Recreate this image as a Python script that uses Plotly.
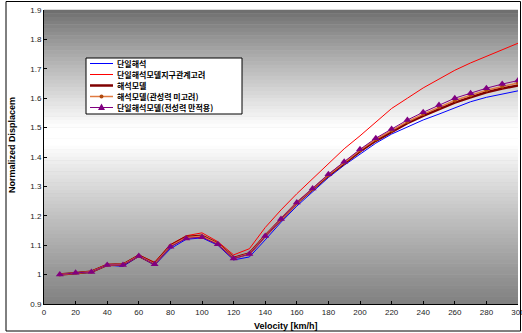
import plotly.graph_objects as go

velocity = [10, 20, 30, 40, 50, 60, 70, 80, 90, 100, 110, 120, 130, 140, 150,
            160, 170, 180, 190, 200, 210, 220, 230, 240, 250, 260, 270, 280, 290, 300]

s_blue = [1.000, 1.005, 1.008, 1.032, 1.028, 1.062, 1.032, 1.088, 1.120, 1.125, 1.100, 1.050, 1.060, 1.118, 1.178,
          1.233, 1.283, 1.330, 1.372, 1.408, 1.447, 1.478, 1.503, 1.526, 1.546, 1.566, 1.588, 1.603, 1.615, 1.625]
s_red = [1.000, 1.007, 1.012, 1.035, 1.036, 1.067, 1.042, 1.102, 1.132, 1.142, 1.112, 1.067, 1.088, 1.160, 1.220,
         1.275, 1.325, 1.378, 1.428, 1.472, 1.520, 1.565, 1.600, 1.635, 1.665, 1.695, 1.720, 1.742, 1.765, 1.787]
s_brown = [1.000, 1.006, 1.010, 1.033, 1.034, 1.064, 1.037, 1.098, 1.128, 1.132, 1.106, 1.057, 1.072, 1.132, 1.188,
           1.243, 1.290, 1.337, 1.378, 1.419, 1.455, 1.486, 1.515, 1.540, 1.562, 1.585, 1.603, 1.620, 1.633, 1.643]
s_orange = [1.000, 1.006, 1.010, 1.033, 1.034, 1.064, 1.036, 1.097, 1.126, 1.130, 1.105, 1.056, 1.071, 1.131, 1.188,
            1.244, 1.291, 1.339, 1.381, 1.423, 1.460, 1.490, 1.520, 1.546, 1.570, 1.592, 1.610, 1.627, 1.640, 1.652]
s_purple = [1.000, 1.006, 1.009, 1.033, 1.033, 1.063, 1.035, 1.095, 1.123, 1.127, 1.103, 1.055, 1.070, 1.131, 1.189,
            1.245, 1.293, 1.341, 1.384, 1.426, 1.464, 1.495, 1.526, 1.552, 1.577, 1.600, 1.617, 1.634, 1.648, 1.660]

names = ["단일해석",
         "단일해석모델지구관계고려",
         "해석모델",
         "해석모델(관성력 미고려)",
         "단일해석모델(전성력 만적용)"]

x_ticks = list(range(0, 301, 20))
y_ticks = [0.9, 1.0, 1.1, 1.2, 1.3, 1.4, 1.5, 1.6, 1.7, 1.8, 1.9]
y_ticktext = ["0.9", "1", "1.1", "1.2", "1.3", "1.4", "1.5", "1.6", "1.7", "1.8", "1.9"]

# plot-area geometry (pixels) used for styling helpers
L, R, T, B = 44, 518, 10, 304
W = 522
H = 333


def px(x):
    return (x - L) / (R - L)


def py(y):
    return (B - y) / (B - T)


styles = [
    dict(color="#0000FF", width=1, marker=None),
    dict(color="#FF0000", width=1, marker=None),
    dict(color="#800000", width=2.5, marker=None),
    dict(color="#E07A40", width=1.5, marker=("circle", 4, "#B04A10")),
    dict(color="#800080", width=1, marker=("triangle-up", 7, "#800080")),
]
series = [s_blue, s_red, s_brown, s_orange, s_purple]

fig = go.Figure()
for nm, ys, st in zip(names, series, styles):
    if st["marker"] is None:
        fig.add_trace(go.Scatter(x=velocity, y=ys, name=nm, mode="lines",
                                 line=dict(color=st["color"], width=st["width"]), showlegend=False))
    else:
        sym, sz, mc = st["marker"]
        fig.add_trace(go.Scatter(x=velocity, y=ys, name=nm, mode="lines+markers",
                                 line=dict(color=st["color"], width=st["width"]),
                                 marker=dict(symbol=sym, size=sz, color=mc), showlegend=False))

shapes = []
# gradient background bands (style only)
N = 80
for i in range(N):
    f = (i + 0.5) / N  # fraction from top
    if f < 0.40:
        v = 108 + (255 - 108) * (f / 0.40) ** 0.9
    elif f < 0.46:
        v = 255
    else:
        v = 255 - (255 - 128) * ((f - 0.46) / 0.54) ** 0.9
    v = int(round(v))
    col = f"rgb({v},{v},{v})"
    shapes.append(dict(type="rect", xref="paper", yref="paper",
                       x0=0, x1=1, y0=1 - (i + 1) / N, y1=1 - i / N + 0.001,
                       fillcolor=col, line=dict(width=0), layer="below"))
# outer frame
shapes.append(dict(type="rect", xref="paper", yref="paper",
                   x0=px(6), x1=px(520.5), y0=py(331), y1=py(1.5),
                   line=dict(color="#000000", width=1), fillcolor="rgba(0,0,0,0)"))

# custom compact legend
annotations = []
shapes.append(dict(type="rect", xref="paper", yref="paper",
                   x0=px(86), x1=px(242), y0=py(114), y1=py(58),
                   line=dict(color="#000000", width=1), fillcolor="white"))
rows = [63.5, 74.5, 85.5, 96.5, 107.5]
for nm, st, yy in zip(names, styles, rows):
    shapes.append(dict(type="line", xref="paper", yref="paper",
                       x0=px(90), x1=px(113), y0=py(yy), y1=py(yy),
                       line=dict(color=st["color"], width=st["width"])))
    if st["marker"] is not None:
        sym, sz, mc = st["marker"]
        cx = 101.5
        if sym == "circle":
            shapes.append(dict(type="circle", xref="paper", yref="paper",
                               x0=px(cx - 2), x1=px(cx + 2), y0=py(yy + 2), y1=py(yy - 2),
                               fillcolor=mc, line=dict(width=0)))
        else:
            path = (f"M {px(cx)} {py(yy - 4)} L {px(cx - 3.5)} {py(yy + 2.5)} "
                    f"L {px(cx + 3.5)} {py(yy + 2.5)} Z")
            shapes.append(dict(type="path", xref="paper", yref="paper", path=path,
                               fillcolor=mc, line=dict(width=0)))
    annotations.append(dict(text=f"<b>{nm}</b>", xref="paper", yref="paper",
                            x=px(116), y=py(yy), xanchor="left", yanchor="middle",
                            showarrow=False, borderpad=0,
                            font=dict(family="Noto Sans CJK KR", size=8, color="black")))

font_main = "Liberation Sans, Arial, sans-serif"

annotations += [
    dict(text="<b>Velocity [km/h]</b>", xref="paper", yref="paper", x=px(286), y=py(326),
         xanchor="center", yanchor="middle", showarrow=False,
         font=dict(family=font_main, size=9, color="black")),
    dict(text="<b>Normalized Displacem</b>", xref="paper", yref="paper", x=px(12), y=py(145),
         xanchor="center", yanchor="middle", textangle=-90, showarrow=False,
         font=dict(family=font_main, size=9, color="black")),
]

fig.update_layout(
    width=W, height=H,
    margin=dict(l=L, r=W - R, t=T, b=H - B, autoexpand=False),
    paper_bgcolor="white",
    plot_bgcolor="#c0c0c0",
    shapes=shapes,
    annotations=annotations,
    showlegend=False,
    xaxis=dict(range=[0, 300], tickvals=x_ticks, showgrid=False, zeroline=False,
               showline=True, linecolor="black", linewidth=1,
               ticks="inside", ticklen=3, tickcolor="black", ticklabeloverflow="allow",
               tickfont=dict(family=font_main, size=8, color="#222")),
    yaxis=dict(range=[0.9, 1.9], tickvals=y_ticks, ticktext=y_ticktext, showgrid=False, zeroline=False,
               showline=True, linecolor="black", linewidth=1,
               ticks="inside", ticklen=3, tickcolor="black", ticklabeloverflow="allow",
               tickfont=dict(family=font_main, size=8, color="#222")),
)

fig.write_html("out.html", config={"displayModeBar": False},
               post_script="document.body.style.margin='0px';document.body.style.overflow='hidden';")
